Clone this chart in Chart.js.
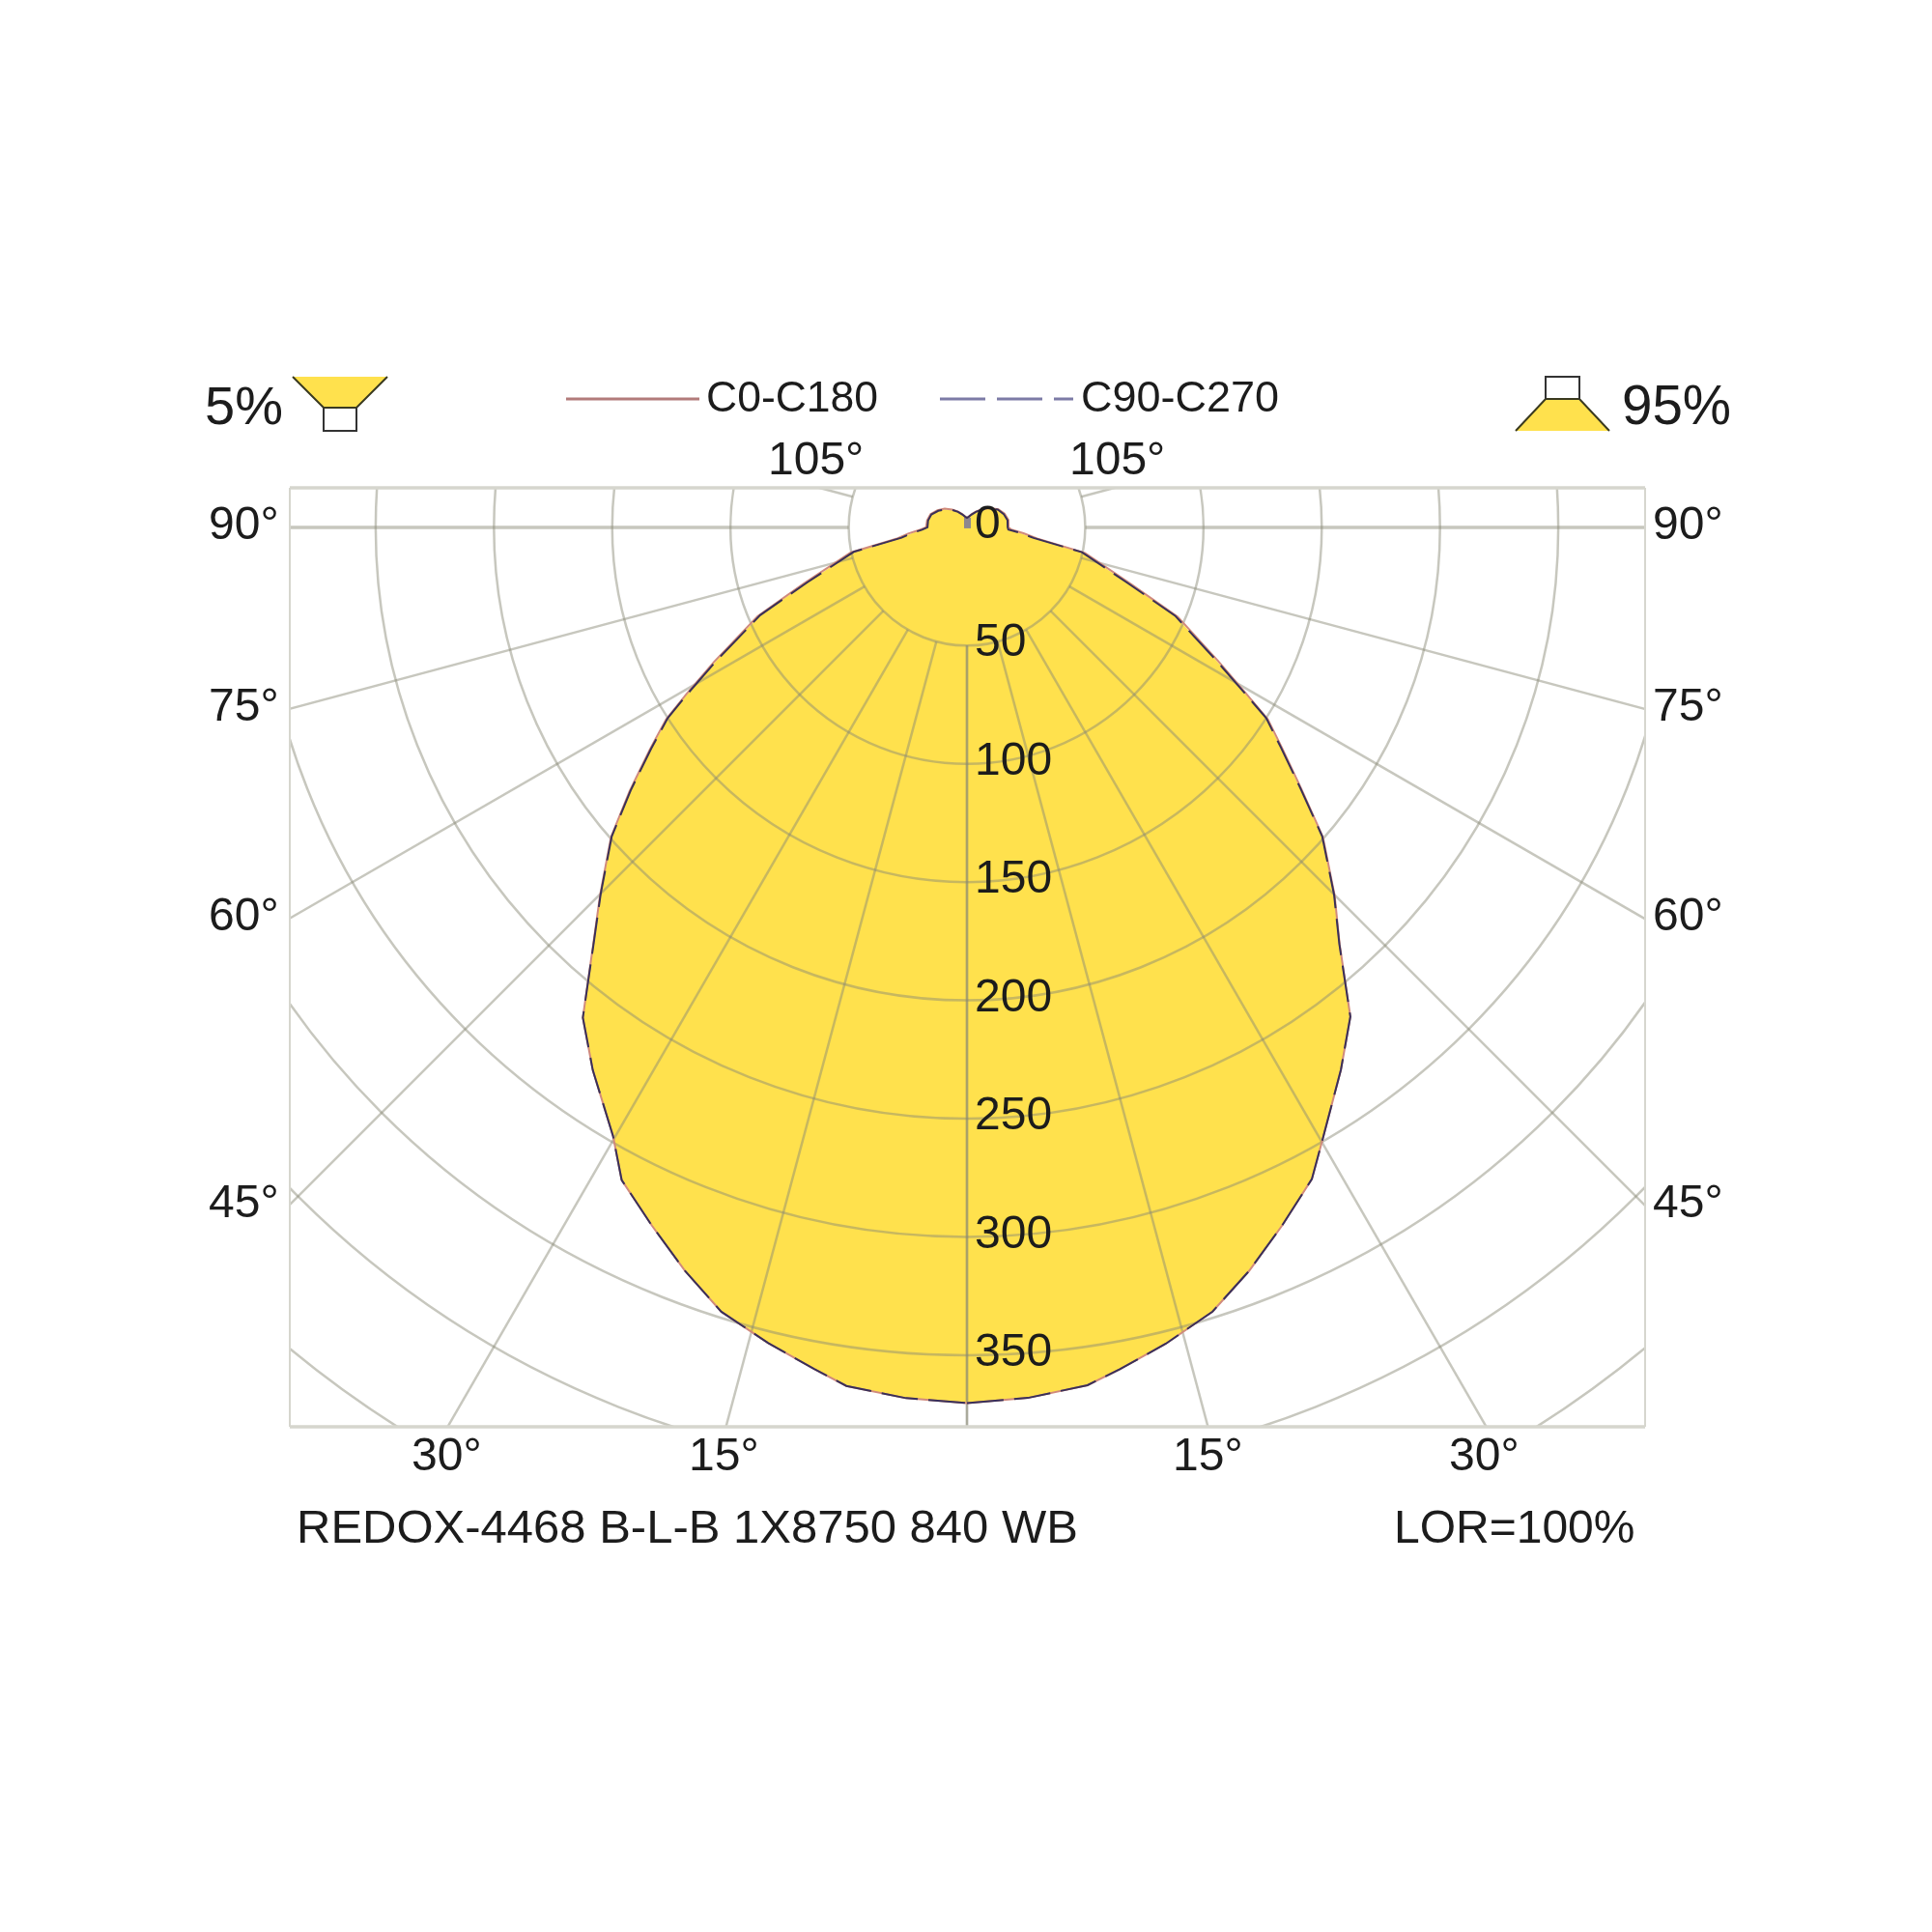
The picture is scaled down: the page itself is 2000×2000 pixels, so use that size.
<!DOCTYPE html>
<html>
<head>
<meta charset="utf-8">
<title>REDOX-4468 B-L-B 1X8750 840 WB</title>
<script src="https://cdn.jsdelivr.net/npm/chart.js@4"></script>
<style>
    body { margin: 0; background: #fff; }
</style>
</head>
<body>
<canvas id="chart" width="2000" height="2000"></canvas>
<script>
// Angles from nadir, and candela for each half plane
const angles = [0, 4, 8, 10.3, 13.7, 17.4, 20.8, 24.3, 27.9, 30.2, 34.6, 38.1, 41.8, 45, 49, 52, 55, 57.5, 59.3, 62, 67, 71, 77.8, 81, 84, 87, 90, 100, 110, 120, 130, 140, 150, 160, 170, 180];
const c0Values = [370, 368.7, 366, 361.5, 355, 347.2, 336, 323.7, 311.6, 299, 278.4, 262.7, 236.4, 219.8, 199.4, 179.4, 162.7, 150.8, 137, 120.2, 96.8, 73, 51, 30, 24, 18.8, 17.6, 17.8, 16.9, 15.3, 12.7, 10, 7.8, 6, 4.7, 4];
const c180Values = [370, 368.8, 366.3, 361.4, 354.7, 347.3, 335.9, 323.7, 312, 297.5, 278.6, 263.2, 237.2, 219.3, 199.4, 181, 163.7, 150.8, 138, 121.2, 96.2, 73, 50.3, 29.6, 25, 20, 17.3, 17.1, 16.4, 14.4, 12.3, 9.8, 7.8, 6, 4.7, 4];
const c90Values = [370, 368.7, 366, 361.5, 355, 347.2, 336, 323.7, 311.6, 299, 278.4, 262.7, 236.2, 219.5, 199, 178.8, 162, 150, 136, 119, 95.6, 71.5, 49.7, 28.5, 22.6, 17.5, 17.2, 17.4, 16.5, 15, 12.4, 9.8, 7.6, 5.8, 4.6, 4];
const c270Values = [370, 368.8, 366.3, 361.4, 354.7, 347.3, 335.9, 323.7, 312, 297.5, 278.6, 263.2, 237, 219, 199, 180.4, 163, 150, 137, 120, 95, 71.5, 49, 28, 23.5, 19, 16.7, 16.7, 16, 14, 11.9, 9.6, 7.6, 5.8, 4.6, 4];

const radialTicks = [0, 50, 100, 150, 200, 250, 300, 350];
const gridCircles = [50, 100, 150, 200, 250, 300, 350, 400, 450];
const gridSpokes = [0, 15, 30, 45, 60, 75, 90, 105];
const seriesNames = ['C0-C180', 'C90-C270'];
const luminaireName = 'REDOX-4468 B-L-B 1X8750 840 WB';
const lorLabel = 'LOR=100%';

const FONT = '"Liberation Sans", Arial, sans-serif';
const TEXT_COLOR = '#1c1c1c';
const GRID_COLOR = 'rgba(137,137,116,0.47)';
const YELLOW = '#ffe14d';

/**
 * Turn a half plane pair into x / y points, running round the whole curve
 */
function toPoints(rightValues, leftValues) {
    const pts = [];
    angles.forEach((a, i) => {
        const t = a * Math.PI / 180;
        pts.push({ x: rightValues[i] * Math.sin(t), y: -rightValues[i] * Math.cos(t) });
    });
    for (let i = angles.length - 2; i >= 0; i--) {
        const t = angles[i] * Math.PI / 180;
        pts.push({ x: -leftValues[i] * Math.sin(t), y: -leftValues[i] * Math.cos(t) });
    }
    return pts;
}

const c0Points = toPoints(c0Values, c180Values);
const c90Points = toPoints(c90Values, c270Values);

function label(ctx, text, x, y, size) {
    ctx.font = `${size}px ${FONT}`;
    ctx.fillStyle = TEXT_COLOR;
    ctx.textAlign = 'left';
    ctx.textBaseline = 'alphabetic';
    ctx.fillText(text, x, y);
}

function polygon(ctx, pts, fill, stroke) {
    ctx.beginPath();
    pts.forEach((p, i) => (i ? ctx.lineTo(p[0], p[1]) : ctx.moveTo(p[0], p[1])));
    if (fill) {
        ctx.fillStyle = fill;
        ctx.fill();
    }
    if (stroke) {
        ctx.strokeStyle = stroke;
        ctx.lineWidth = 2;
        ctx.stroke();
    }
}

// Yellow area and the polar grid, under the curves
const polarGrid = {
    id: 'polarGrid',
    beforeDatasetsDraw(chart) {
        const { ctx, chartArea: area, scales: { x, y } } = chart;
        const cx = x.getPixelForValue(0);
        const cy = y.getPixelForValue(0);
        const unit = x.getPixelForValue(1) - cx;

        ctx.save();
        ctx.beginPath();
        c90Points.forEach((p, i) => {
            const px = x.getPixelForValue(p.x);
            const py = y.getPixelForValue(p.y);
            i ? ctx.lineTo(px, py) : ctx.moveTo(px, py);
        });
        ctx.closePath();
        ctx.fillStyle = YELLOW;
        ctx.fill();

        ctx.beginPath();
        ctx.rect(area.left, area.top, area.width, area.height);
        ctx.clip();
        ctx.strokeStyle = GRID_COLOR;
        ctx.lineWidth = 2.5;

        gridCircles.forEach(r => {
            ctx.beginPath();
            ctx.arc(cx, cy, r * unit, 0, Math.PI * 2);
            ctx.stroke();
        });

        gridSpokes.forEach(a => {
            const t = a * Math.PI / 180;
            [1, -1].forEach(side => {
                ctx.lineWidth = a === 90 ? 3.5 : 2.5;
                ctx.beginPath();
                ctx.moveTo(cx + side * 50 * unit * Math.sin(t), cy + 50 * unit * Math.cos(t));
                ctx.lineTo(cx + side * 900 * unit * Math.sin(t), cy + 900 * unit * Math.cos(t));
                ctx.stroke();
            });
        });
        ctx.restore();

        // little mark at the pole
        ctx.fillStyle = '#8d8790';
        ctx.fillRect(cx - 3, cy - 10, 7, 11);

        // frame
        ctx.strokeStyle = '#d6d6ce';
        ctx.lineWidth = 2;
        ctx.beginPath();
        ctx.moveTo(area.left, area.top);
        ctx.lineTo(area.left, area.bottom);
        ctx.moveTo(area.right, area.top);
        ctx.lineTo(area.right, area.bottom);
        ctx.stroke();
        ctx.lineWidth = 3.5;
        ctx.beginPath();
        ctx.moveTo(area.left, area.top);
        ctx.lineTo(area.right, area.top);
        ctx.moveTo(area.left, area.bottom);
        ctx.lineTo(area.right, area.bottom);
        ctx.stroke();
    },
    afterDatasetsDraw(chart) {
        const { ctx, scales: { y } } = chart;
        ctx.save();

        // Radial ticks
        radialTicks.forEach(v => {
            label(ctx, String(v), 1009, y.getPixelForValue(-v) + 11, 48);
        });

        // Angle labels round the frame
        [['90°', 558], ['75°', 746], ['60°', 963], ['45°', 1260]].forEach(([t, by]) => {
            label(ctx, t, 216, by, 48);
            label(ctx, t, 1711, by, 48);
        });
        label(ctx, '105°', 795, 491, 48);
        label(ctx, '105°', 1107, 491, 48);
        label(ctx, '30°', 426, 1522, 48);
        label(ctx, '15°', 713, 1522, 48);
        label(ctx, '15°', 1214, 1522, 48);
        label(ctx, '30°', 1500, 1522, 48);

        label(ctx, luminaireName, 307, 1597, 49);
        label(ctx, lorLabel, 1443, 1597, 48);

        // Legend
        ctx.lineWidth = 3;
        ctx.strokeStyle = '#b27b7a';
        ctx.beginPath();
        ctx.moveTo(586, 413);
        ctx.lineTo(724, 413);
        ctx.stroke();
        ctx.strokeStyle = '#7c7ba6';
        ctx.setLineDash([47, 12]);
        ctx.beginPath();
        ctx.moveTo(973, 413);
        ctx.lineTo(1111, 413);
        ctx.stroke();
        ctx.setLineDash([]);
        label(ctx, seriesNames[0], 731, 426, 44.5);
        label(ctx, seriesNames[1], 1119, 426, 45);

        // Up / down light icons
        label(ctx, '5%', 212, 439, 56);
        polygon(ctx, [[303, 390], [401, 390], [369, 422], [335, 422]], YELLOW);
        polygon(ctx, [[303, 390], [335, 422], [369, 422], [401, 390]], null, '#3a3a20');
        polygon(ctx, [[335, 422], [335, 446], [369, 446], [369, 422]], null, '#333');

        label(ctx, '95%', 1679, 439, 56.5);
        polygon(ctx, [[1600, 413], [1635, 413], [1666, 446], [1569, 446]], YELLOW);
        polygon(ctx, [[1569, 446], [1600, 413], [1635, 413], [1666, 446]], null, '#3a3a20');
        polygon(ctx, [[1600, 413], [1600, 390], [1635, 390], [1635, 413]], null, '#333');

        ctx.restore();
    }
};

new Chart(document.getElementById('chart'), {
    type: 'scatter',
    data: {
        datasets: [
            {
                label: seriesNames[0],
                data: c0Points,
                showLine: true,
                order: 1,
                borderColor: '#d08a7c',
                borderWidth: 2,
                pointRadius: 0,
                tension: 0
            },
            {
                label: seriesNames[1],
                data: c90Points,
                showLine: true,
                order: 0,
                borderColor: '#3a3058',
                borderWidth: 2,
                borderDash: [38, 11],
                pointRadius: 0,
                tension: 0
            }
        ]
    },
    options: {
        responsive: false,
        animation: false,
        devicePixelRatio: 1,
        layout: { padding: { left: 300, right: 297, top: 505, bottom: 523 } },
        scales: {
            x: { type: 'linear', display: false, min: -286.3, max: 286.7 },
            y: { type: 'linear', display: false, min: -380, max: 16.7 }
        },
        plugins: {
            legend: { display: false },
            tooltip: { enabled: false }
        }
    },
    plugins: [polarGrid]
});
</script>
</body>
</html>
